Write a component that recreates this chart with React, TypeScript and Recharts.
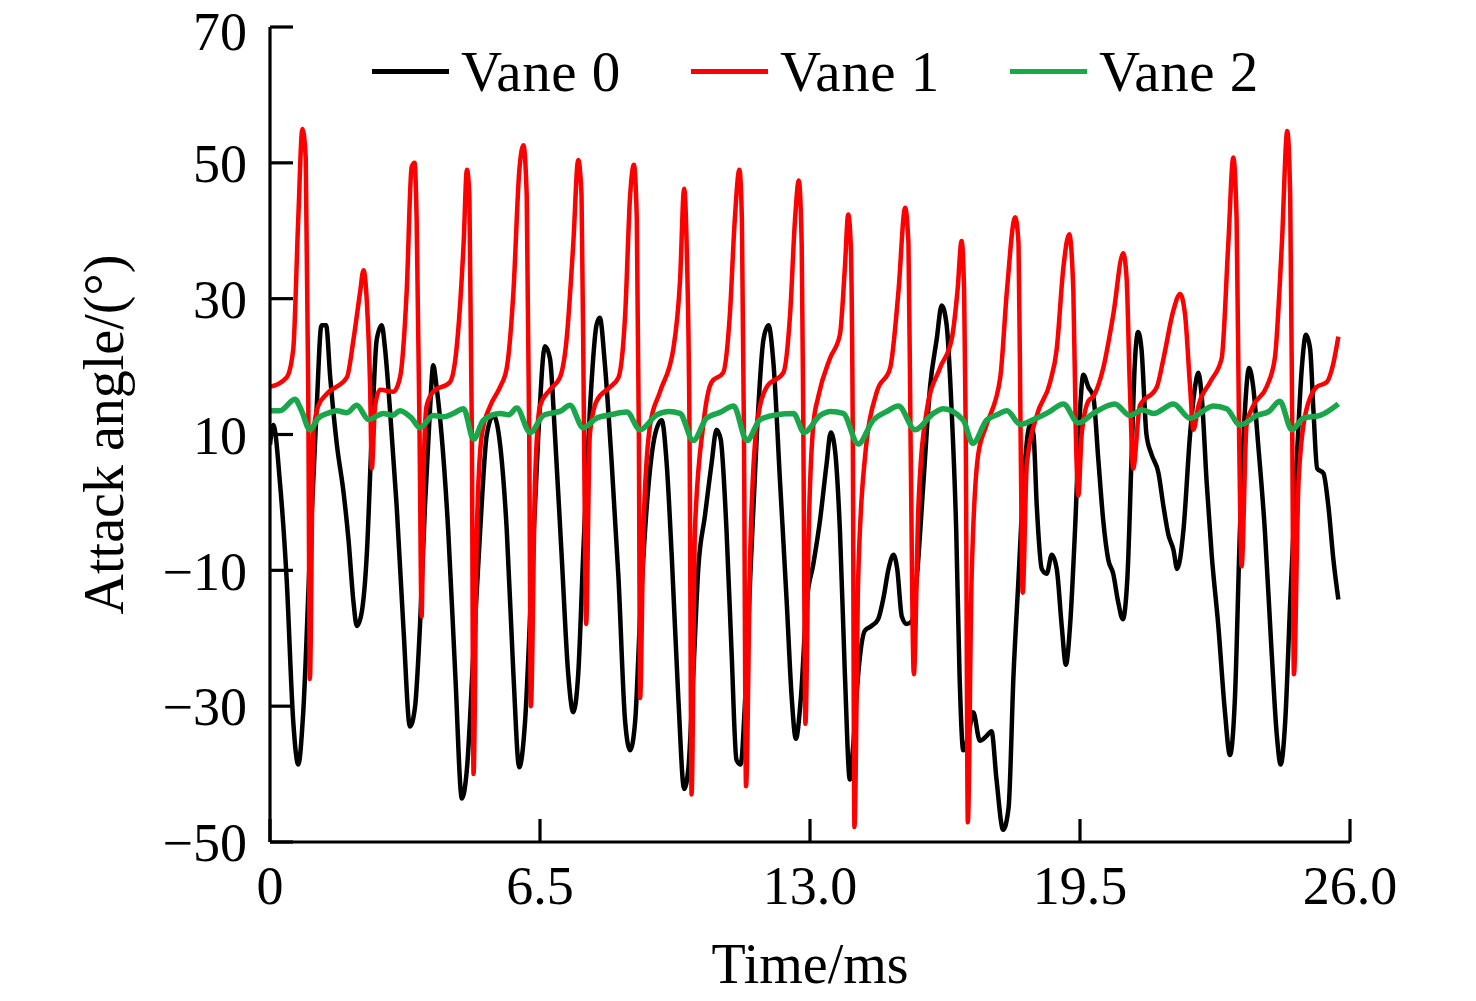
import { LineChart, Line, XAxis, YAxis, Legend } from "recharts"

// ─── Data (time in ms, attack angle in degrees) ─────────────────────────────

const X_TICKS = [0, 6.5, 13, 19.5, 26]
const Y_TICKS = [-50, -30, -10, 10, 30, 50, 70]

const VANE_0: [number, number][] = [
  [0, 8.5], [0.08, 11.4], [0.24, 2.9], [0.4, -11.2], [0.56, -32.3], [0.68, -38.6], [0.8, -30.9],
  [0.96, -7.7], [1.12, 13.5], [1.24, 26.1], [1.35, 26.1], [1.45, 18.4], [1.61, 8.5], [1.77, 1.5],
  [1.89, -5.5], [2.01, -14.7], [2.09, -18.2], [2.21, -16.1], [2.33, -7.7], [2.45, 10], [2.57, 24],
  [2.69, 26.1], [2.77, 22.6], [2.89, 13.5], [3.05, -0.6], [3.21, -18.2], [3.37, -33], [3.49, -30.2],
  [3.61, -18.2], [3.73, -0.6], [3.85, 13.5], [3.93, 20.2], [4.01, 17], [4.13, 10], [4.29, -4.1],
  [4.46, -25.3], [4.62, -43.6], [4.74, -39.3], [4.9, -21.7], [5.06, -4.1], [5.22, 10], [5.38, 12.8],
  [5.54, 8.5], [5.7, -4.1], [5.86, -25.3], [6.0, -39], [6.14, -32.3], [6.3, -11.2], [6.46, 10],
  [6.62, 23], [6.74, 21.2], [6.86, 10], [7.02, -7.7], [7.18, -25.3], [7.3, -30.9], [7.42, -25.3],
  [7.54, -7.7], [7.7, 13.5], [7.86, 26.1], [7.94, 27.2], [8.06, 20.5], [8.22, 6.4], [8.39, -11.2],
  [8.55, -32.3], [8.67, -36.5], [8.79, -32.3], [8.91, -16.8], [9.07, -0.6], [9.27, 10], [9.43, 12.1],
  [9.55, 5.7], [9.67, -7.7], [9.83, -28.8], [9.97, -42.2], [10.07, -39.3], [10.19, -25.3], [10.31, -9.8],
  [10.47, -2], [10.63, 5.7], [10.75, 10.7], [10.85, 9.3], [10.99, -4.1], [11.11, -21.7], [11.23, -37.9],
  [11.33, -38.6], [11.44, -28.8], [11.56, -11.2], [11.72, 10], [11.88, 24], [12.0, 26.1], [12.12, 20.5],
  [12.28, 2.9], [12.44, -14.7], [12.56, -28.8], [12.66, -34.8], [12.78, -28.8], [12.92, -14.7],
  [13.08, -9.1], [13.24, -2.7], [13.4, 5.7], [13.5, 10.3], [13.6, 7.8], [13.72, -4.1], [13.84, -25.3],
  [13.96, -40.8], [14.04, -35.8], [14.16, -25.3], [14.32, -18.9], [14.48, -18.2], [14.64, -17.2],
  [14.77, -14], [14.89, -9.8], [15.01, -7.7], [15.1, -9.8], [15.21, -16.8], [15.33, -17.9], [15.45, -17.5],
  [15.57, -11.2], [15.73, 2.9], [15.89, 17], [16.05, 24], [16.17, 29], [16.29, 26.1], [16.41, 13.5],
  [16.52, -4.1], [16.6, -25.3], [16.69, -36.5], [16.81, -34.4], [16.93, -30.9], [17.09, -35.1],
  [17.25, -34.4], [17.37, -33.7], [17.49, -40.8], [17.65, -48.2], [17.78, -45], [17.9, -25.3],
  [18.02, -11.2], [18.14, 2.9], [18.3, 11.4], [18.38, 10], [18.46, -0.6], [18.58, -9.8], [18.7, -10.5],
  [18.82, -7.7], [18.94, -9.8], [19.06, -18.2], [19.16, -23.9], [19.26, -18.2], [19.38, -4.1],
  [19.5, 13.5], [19.58, 18.8], [19.7, 17], [19.82, 15.6], [19.94, 6.4], [20.06, -2.7], [20.18, -8.4],
  [20.3, -10.5], [20.42, -14.7], [20.53, -17.2], [20.64, -11.2], [20.74, 6.4], [20.82, 20.5],
  [20.9, 25.1], [20.98, 22.6], [21.1, 10], [21.22, 7.1], [21.39, 4.3], [21.51, -0.6], [21.63, -4.8],
  [21.75, -7], [21.84, -9.8], [21.99, -4.1], [22.15, 10], [22.27, 17], [22.35, 19.1], [22.43, 15.6],
  [22.55, 2.9], [22.67, -7.7], [22.83, -18.2], [22.99, -30.9], [23.11, -37.2], [23.23, -28.8],
  [23.35, -4.1], [23.47, 13.5], [23.57, 19.8], [23.67, 17], [23.79, 8.5], [23.95, -4.1], [24.11, -21.7],
  [24.24, -34.4], [24.33, -38.6], [24.44, -32.3], [24.56, -14.7], [24.72, 6.4], [24.84, 19.8],
  [24.94, 24.7], [25.04, 22.6], [25.12, 13.5], [25.21, 5], [25.36, 4.3], [25.48, -0.6], [25.6, -8.4],
  [25.72, -14.3],
]

const VANE_1: [number, number][] = [
  [0, 17], [0.4, 18.4], [0.56, 22.6], [0.68, 41.7], [0.78, 55], [0.86, 50.8], [0.92, 17], [0.96, -26],
  [1.04, 10], [1.16, 14.2], [1.37, 16], [1.85, 18.4], [2.01, 24], [2.17, 31], [2.25, 34.2], [2.33, 29.7],
  [2.41, 17], [2.45, 5], [2.53, 14.2], [2.65, 16.6], [2.97, 16.3], [3.13, 18.4], [3.29, 31], [3.41, 49.4],
  [3.48, 50], [3.53, 41.7], [3.6, 10], [3.65, -16.8], [3.7, 5], [3.77, 14.2], [3.93, 16.3], [4.33, 17.7],
  [4.49, 22.6], [4.66, 38], [4.74, 49], [4.8, 45.2], [4.86, 10], [4.9, -40], [4.98, -4], [5.1, 10],
  [5.3, 14.2], [5.54, 17], [5.7, 19.8], [5.86, 31], [6.0, 48.7], [6.1, 52.6], [6.18, 45.2], [6.24, 10],
  [6.28, -30], [6.38, 3], [6.5, 14.2], [6.74, 16.6], [6.98, 18.4], [7.14, 24], [7.3, 38], [7.42, 50.4],
  [7.5, 45.2], [7.56, 10], [7.61, -17.9], [7.7, 10], [7.86, 14.9], [8.19, 17], [8.39, 18.4], [8.55, 27.6],
  [8.67, 45.2], [8.76, 49.7], [8.83, 41.7], [8.88, 10], [8.91, -28.8], [8.99, -4], [9.15, 11.4],
  [9.39, 16.3], [9.71, 22.6], [9.87, 32.5], [9.97, 46.2], [10.03, 38], [10.1, 10], [10.15, -43],
  [10.23, -4], [10.43, 11.4], [10.63, 17.7], [10.91, 19.1], [11.07, 27.6], [11.19, 41.7], [11.3, 49],
  [11.36, 41.7], [11.41, 10], [11.46, -41.8], [11.56, -7.7], [11.72, 11.4], [11.96, 17], [12.36, 19.1],
  [12.52, 27.6], [12.64, 41.7], [12.73, 47.4], [12.8, 38], [12.84, 10], [12.89, -32.6], [12.97, -4],
  [13.08, 11.4], [13.2, 15.6], [13.48, 21.2], [13.72, 24.7], [13.84, 34.6], [13.92, 42.4], [13.98, 38.1],
  [14.03, 10], [14.07, -47.8], [14.16, -11.2], [14.32, 6.4], [14.61, 16.3], [14.93, 19.8], [15.13, 31.1],
  [15.29, 43.4], [15.37, 38.1], [15.42, 10], [15.5, -25.3], [15.61, -0.6], [15.81, 13.5], [16.13, 19.8],
  [16.41, 24], [16.55, 31.1], [16.65, 38.5], [16.71, 31.1], [16.75, 10], [16.8, -47.1], [16.89, -11.2],
  [17.05, 7.1], [17.25, 11.4], [17.58, 18.4], [17.74, 31.1], [17.94, 42], [18.02, 38.1], [18.07, 10],
  [18.12, -13.3], [18.22, 5.7], [18.46, 12.8], [18.78, 17.7], [18.94, 22.6], [19.1, 34.6], [19.24, 39.5],
  [19.34, 31.1], [19.4, 10], [19.46, 1], [19.54, 10], [19.7, 14.9], [19.82, 15.6], [20.06, 19.8],
  [20.3, 27.6], [20.54, 36.7], [20.62, 33.2], [20.7, 17], [20.78, 5], [20.94, 14.2], [21.35, 17],
  [21.51, 21.2], [21.75, 28.3], [21.91, 30.7], [22.03, 27.6], [22.15, 17], [22.23, 10.7], [22.35, 14.2],
  [22.63, 17.7], [22.91, 21.2], [23.07, 38.1], [23.19, 50.8], [23.27, 41.7], [23.33, 10], [23.39, -9.4],
  [23.51, 11.4], [23.67, 14.2], [23.99, 17], [24.19, 21.2], [24.36, 38.1], [24.49, 54.7], [24.56, 45.2],
  [24.61, 10], [24.65, -25.3], [24.76, 2.9], [24.92, 12.8], [25.2, 17], [25.44, 17.7], [25.6, 20.5],
  [25.72, 24.4],
]

const VANE_2: [number, number][] = [
  [0, 13.5], [0.24, 13.5], [0.6, 15.2], [0.76, 13.5], [0.96, 10.7], [1.16, 12.4], [1.38, 13.1],
  [1.61, 13.5], [1.85, 13.2], [2.09, 14.3], [2.37, 12.2], [2.73, 13.1], [2.95, 12.8], [3.13, 13.5],
  [3.41, 12.4], [3.61, 11], [3.93, 12.8], [4.18, 12.6], [4.41, 13.1], [4.66, 13.8], [4.9, 9.3],
  [5.14, 12.1], [5.54, 13.1], [5.75, 12.9], [5.94, 13.9], [6.26, 10.3], [6.58, 12.8], [6.74, 13.1],
  [6.98, 13.4], [7.22, 14.3], [7.54, 11], [7.86, 12.4], [8.2, 12.9], [8.59, 13.3], [8.91, 10.7],
  [9.31, 12.9], [9.6, 13.4], [9.87, 13.1], [10.19, 9.1], [10.51, 12.4], [10.85, 13.3], [11.16, 14.2],
  [11.48, 9.1], [11.8, 12.2], [12.2, 12.9], [12.6, 13.1], [12.86, 10.3], [13.24, 12.8], [13.5, 13.4],
  [13.8, 13.1], [14.16, 8.6], [14.52, 12.1], [14.85, 13.4], [15.13, 14.2], [15.53, 10.7], [15.97, 13.1],
  [16.21, 13.8], [16.69, 12.1], [16.92, 8.7], [17.25, 12.1], [17.5, 12.9], [17.74, 13.5], [18.06, 11.5],
  [18.38, 12.2], [18.75, 13.3], [19.1, 14.5], [19.46, 11.7], [19.82, 13.1], [20.34, 14.5], [20.7, 12.8],
  [21.0, 13.6], [21.27, 13.1], [21.75, 14.5], [22.15, 12.4], [22.71, 14.2], [23.03, 13.8], [23.35, 11.4],
  [23.75, 12.8], [24.05, 13.4], [24.31, 14.9], [24.6, 10.7], [24.88, 12.4], [25.28, 12.8], [25.72, 14.5],
]

// ─── Series config ────────────────────────────────────────────────────────────

const FONT = "'Liberation Serif', 'Times New Roman', Times, serif"

const toPoints = (rows: [number, number][]) => rows.map(([t, v]) => ({ t, v }))

const SERIES = [
  { name: "Vane 0", color: "#000000", width: 4.5, data: toPoints(VANE_0) },
  { name: "Vane 1", color: "#ff0000", width: 4.5, data: toPoints(VANE_1) },
  { name: "Vane 2", color: "#1aa64a", width: 5.5, data: toPoints(VANE_2) },
]

const formatX = (v: number) => (v === 0 ? "0" : v.toFixed(1))
const formatY = (v: number) => (v < 0 ? `\u2212${Math.abs(v)}` : String(v))

// ─── Legend & axis titles ─────────────────────────────────────────────────────

function LegendContent() {
  return (
    <div style={{ display: "flex", alignItems: "center", fontFamily: FONT, fontSize: 57, lineHeight: 1, color: "#000" }}>
      {SERIES.map((s) => (
        <div key={s.name} style={{ display: "flex", alignItems: "center", width: 319 }}>
          <span style={{ width: 77, height: 5, background: s.color, marginRight: 12 }} />
          <span style={{ letterSpacing: 0.5 }}>{s.name}</span>
        </div>
      ))}
    </div>
  )
}

function YTitle(props: any) {
  const vb = props.viewBox ?? { x: 0, y: 27, width: 270, height: 815 }
  const x = vb.x + 123
  const y = vb.y + vb.height / 2
  return (
    <text x={x} y={y} transform={`rotate(-90, ${x}, ${y})`} textAnchor="middle" fontFamily={FONT} fontSize={56} fill="#000">
      Attack angle/(°)
    </text>
  )
}

function XTitle(props: any) {
  const vb = props.viewBox ?? { x: 270, y: 842, width: 1080, height: 159 }
  return (
    <text x={vb.x + vb.width / 2} y={vb.y + 141} textAnchor="middle" fontFamily={FONT} fontSize={56} fill="#000">
      Time/ms
    </text>
  )
}

// ─── Chart ────────────────────────────────────────────────────────────────────

export default function App() {
  const axisStroke = { stroke: "#000", strokeWidth: 3.2 }
  const tickStyle = { fill: "#000", fontSize: 54, fontFamily: FONT }

  return (
    <div style={{ width: 1476, height: 1001, background: "#fff" }}>
      <style>{"body{margin:0}"}</style>
      <LineChart width={1476} height={1001} margin={{ top: 27, right: 126, bottom: 0, left: 0 }}>
        <XAxis
          type="number"
          dataKey="t"
          domain={[0, 26]}
          ticks={X_TICKS}
          tickFormatter={formatX}
          allowDataOverflow
          height={159}
          tickSize={-23}
          tickMargin={47}
          axisLine={axisStroke}
          tickLine={axisStroke}
          tick={tickStyle}
          label={<XTitle />}
        />
        <YAxis
          type="number"
          domain={[-50, 70]}
          ticks={Y_TICKS}
          tickFormatter={formatY}
          allowDataOverflow
          width={270}
          tickSize={-23}
          tickMargin={46}
          axisLine={axisStroke}
          tickLine={axisStroke}
          tick={tickStyle}
          label={<YTitle />}
        />
        <Legend
          layout="horizontal"
          verticalAlign="middle"
          align="center"
          content={<LegendContent />}
          wrapperStyle={{ top: 43, left: 372, width: 1000, height: 57 }}
        />
        {SERIES.map((s) => (
          <Line
            key={s.name}
            name={s.name}
            data={s.data}
            dataKey="v"
            type="monotone"
            stroke={s.color}
            strokeWidth={s.width}
            strokeLinejoin="round"
            dot={false}
            activeDot={false}
            isAnimationActive={false}
          />
        ))}
      </LineChart>
    </div>
  )
}
